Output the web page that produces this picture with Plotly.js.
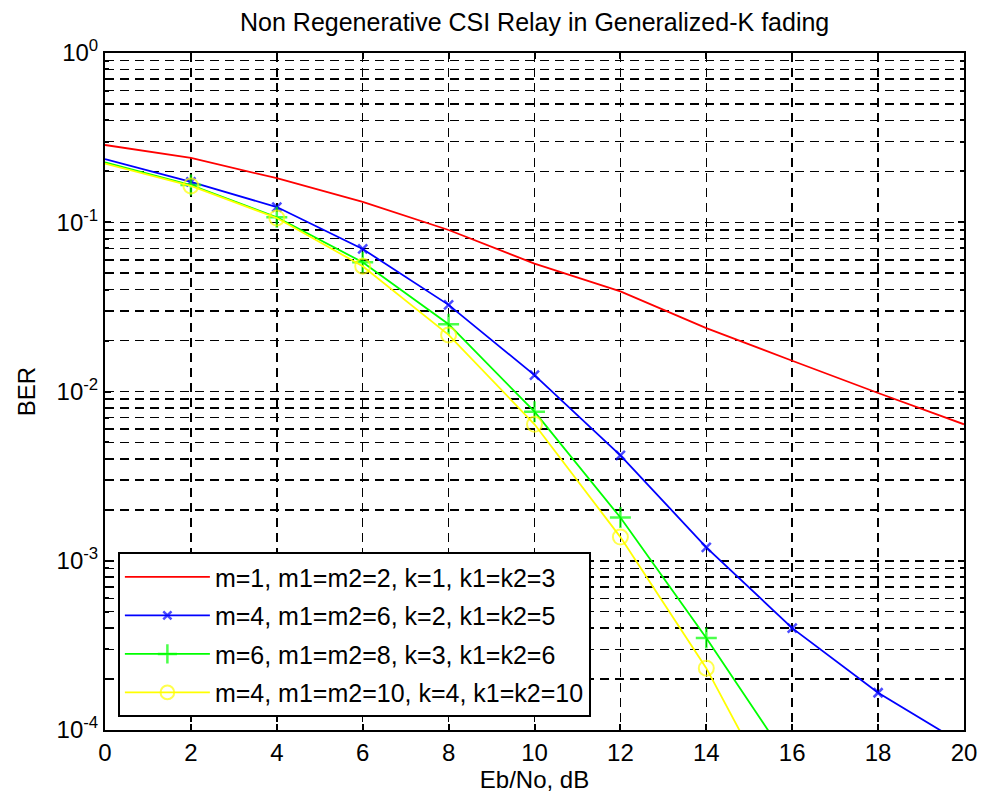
<!DOCTYPE html>
<html>
<head>
<meta charset="utf-8">
<script src="https://cdn.plot.ly/plotly-3.0.1.min.js"></script>
<style>html,body{margin:0;padding:0;background:#fff;}#chart{width:981px;height:795px;}</style>
</head>
<body>
<div id="chart"></div>
<script>
// Eb/No in dB
const ebno = [0, 2, 4, 6, 8, 10, 12, 14, 16, 18, 20];
// BER series
const berM1 = [0.286, 0.24, 0.182, 0.132, 0.090, 0.057, 0.039, 0.0237, 0.0152, 0.0098, 0.0064];
const berM4 = [0.236, 0.173, 0.123, 0.0695, 0.0325, 0.0125, 0.0042, 0.0012, 0.00040, 0.000166, 0.000082];
const berM6 = [0.226, 0.166, 0.107, 0.058, 0.025, 0.0076, 0.0018, 0.00035, 0.000061, null, null];
const berM4b = [0.222, 0.164, 0.106, 0.055, 0.0216, 0.0064, 0.00138, 0.000232, 0.000026, null, null];
const seriesNames = [
  'm=1, m1=m2=2, k=1, k1=k2=3',
  'm=4, m1=m2=6, k=2, k1=k2=5',
  'm=6, m1=m2=8, k=3, k1=k2=6',
  'm=4, m1=m2=10, k=4, k1=k2=10'
];
const yTickVals = [1e-4, 1e-3, 1e-2, 1e-1, 1];
const yTickText = ['10<sup>-4</sup>', '10<sup>-3</sup>', '10<sup>-2</sup>', '10<sup>-1</sup>', '10<sup>0</sup>'];

const FONT = 'Arial, "Liberation Sans", sans-serif';
function sizes(s) { return ebno.map((v, i) => i === 0 ? 0 : s); }

const minorVals = [];
for (let e = -4; e < 0; e++) for (let d = 2; d <= 9; d++) minorVals.push(d * Math.pow(10, e));

const traces = [
  {x: ebno, y: berM1, name: seriesNames[0], mode: 'lines', legendgroup: 'a',
   line: {color: '#ff0000', width: 1.8}},
  {x: ebno, y: berM4, name: seriesNames[1], mode: 'lines+markers', legendgroup: 'b',
   line: {color: '#0000ff', width: 1.8},
   marker: {symbol: 'x-thin', size: sizes(9), color: '#0000ff', line: {color: '#0000ff', width: 2.5}}},
  {x: ebno, y: berM6, name: seriesNames[2], mode: 'lines+markers', legendgroup: 'c',
   line: {color: '#00ff00', width: 1.8},
   marker: {symbol: 'cross-thin', size: sizes(15), color: '#00ff00', line: {color: '#00ff00', width: 2.5}}},
  {x: ebno, y: berM4b, name: seriesNames[3], mode: 'lines+markers', legendgroup: 'd',
   line: {color: '#ffff00', width: 1.8},
   marker: {symbol: 'circle-open', size: sizes(15), color: '#ffff00', line: {color: '#ffff00', width: 2}}}
];

const layout = {
  width: 981, height: 795,
  paper_bgcolor: '#ffffff', plot_bgcolor: '#ffffff',
  margin: {l: 105, r: 17, t: 53, b: 65},
  font: {family: FONT, size: 22, color: '#000'},
  title: {text: 'Non Regenerative CSI Relay in Generalized-K fading', font: {family: FONT, size: 25, color: '#000'},
          x: 0.545, xanchor: 'center', y: 0.972, yanchor: 'middle'},
  showlegend: true,
  legend: {x: 0.015, y: 0.019, xanchor: 'left', yanchor: 'bottom', bgcolor: '#ffffff',
           bordercolor: '#000', borderwidth: 2, font: {family: FONT, size: 25, color: '#000'},
           traceorder: 'grouped', tracegroupgap: 3, itemwidth: 85},
  xaxis: {
    range: [0, 20], tickvals: [0, 2, 4, 6, 8, 10, 12, 14, 16, 18, 20],
    ticks: 'inside', ticklen: 6, tickwidth: 2, tickcolor: '#000',
    showline: true, linecolor: '#000', linewidth: 2, mirror: 'ticks',
    showgrid: true, gridcolor: '#000', gridwidth: 1.5, griddash: '9px,6px',
    zeroline: false, tickfont: {family: FONT, size: 24, color: '#000'},
    title: {text: 'Eb/No, dB', font: {family: FONT, size: 24, color: '#000'}, standoff: 2}
  },
  yaxis: {
    type: 'log', range: [-4, 0], tickmode: 'array', tickvals: yTickVals, ticktext: yTickText,
    ticks: 'inside', ticklen: 6, tickwidth: 2, tickcolor: '#000',
    showline: true, linecolor: '#000', linewidth: 2, mirror: 'ticks',
    showgrid: true, gridcolor: '#000', gridwidth: 1.5, griddash: '9px,6px',
    zeroline: false, tickfont: {family: FONT, size: 24, color: '#000'},
    minor: {tickmode: 'array', tickvals: minorVals, ticks: 'inside', ticklen: 4, tickwidth: 2, tickcolor: '#000',
            showgrid: true, gridcolor: '#000', gridwidth: 1.5, griddash: '9px,6px'},
    title: {text: 'BER', font: {family: FONT, size: 24, color: '#000'}, standoff: 14}
  }
};

Plotly.newPlot('chart', traces, layout, {displayModeBar: false, staticPlot: true});
</script>
</body>
</html>
